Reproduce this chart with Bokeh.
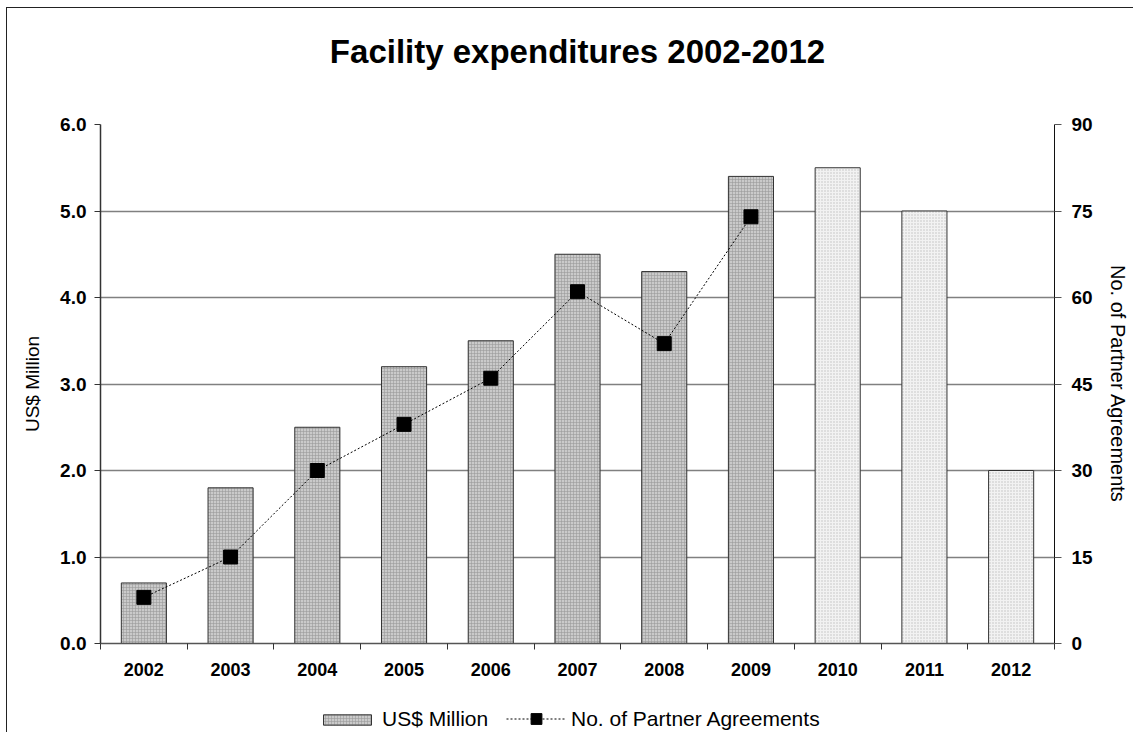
from bokeh.plotting import figure
from bokeh.layouts import column
from bokeh.models import (Range1d, LinearAxis, FixedTicker, NumeralTickFormatter,
                          Legend, LegendItem, Title)
from bokeh.embed import file_html
from bokeh.resources import INLINE

years = ["2002", "2003", "2004", "2005", "2006", "2007", "2008", "2009", "2010", "2011", "2012"]
expenditure = [0.7, 1.8, 2.5, 3.2, 3.5, 4.5, 4.3, 5.4, 5.5, 5.0, 2.0]
agreements = [8, 15, 30, 38, 46, 61, 52, 74]
n_actual = 8

idx = list(range(len(years)))
FONT = "Liberation Sans"
W = 1126
ML, MR = 93, 79

BAR_A = dict(fill_color="#cacaca", line_color="#333333", line_width=1,
             hatch_pattern="cross", hatch_color="#9a9a9a", hatch_scale=3, hatch_weight=0.6)
BAR_B = dict(fill_color="#f2f2f2", line_color="#333333", line_width=1,
             hatch_pattern="dot", hatch_color="#c0c0c0", hatch_scale=3, hatch_weight=0.9)
LINE = dict(line_color="black", line_width=1, line_dash="2 2")
MARK = dict(marker="square", size=14, fill_color="black", line_color="black")

# ---------- title strip ----------
pt = figure(width=W, height=100, output_backend="svg", toolbar_location=None,
            x_range=Range1d(0, 1), y_range=Range1d(0, 1),
            x_axis_location=None, y_axis_location=None,
            min_border_left=ML, min_border_right=MR, min_border_top=61, min_border_bottom=0)
pt.outline_line_color = None
pt.grid.visible = False
pt.title = Title(text="Facility expenditures 2002-2012", align="center", vertical_align="bottom",
                 text_font=FONT, text_font_size="33px", text_font_style="bold",
                 text_color="black", standoff=0, offset=0)

# ---------- main chart ----------
p = figure(width=W, height=584, output_backend="svg", toolbar_location=None,
           x_range=Range1d(-0.5, len(years) - 0.5), y_range=Range1d(0, 6),
           min_border_left=ML, min_border_right=MR, min_border_top=16, min_border_bottom=49)
p.outline_line_color = None
p.background_fill_color = "white"

p.xgrid.grid_line_color = None
p.ygrid.grid_line_color = "#808080"
p.ygrid.grid_line_width = 1.3
p.ygrid.ticker = FixedTicker(ticks=[1, 2, 3, 4, 5, 6])

p.vbar(x=idx[:n_actual], top=expenditure[:n_actual], width=0.52, bottom=0, **BAR_A)
p.vbar(x=idx[n_actual:], top=expenditure[n_actual:], width=0.52, bottom=0, **BAR_B)

p.extra_y_ranges = {"agree": Range1d(0, 90)}
p.line(x=idx[:n_actual], y=agreements, y_range_name="agree", **LINE)
p.scatter(x=idx[:n_actual], y=agreements, y_range_name="agree", **MARK)

xa = p.xaxis[0]
xa.ticker = FixedTicker(ticks=idx, minor_ticks=[i - 0.5 for i in range(len(years) + 1)])
xa.major_label_overrides = {i: y for i, y in enumerate(years)}
xa.major_tick_line_color = None
xa.minor_tick_line_color = "#333333"
xa.minor_tick_out = 6
xa.minor_tick_in = 0
xa.axis_line_color = "#555555"
xa.axis_line_width = 1.5
xa.major_label_text_font = FONT
xa.major_label_text_font_size = "18px"
xa.major_label_text_font_style = "bold"
xa.major_label_text_color = "black"
xa.major_label_standoff = 13

ya = p.yaxis[0]
ya.ticker = FixedTicker(ticks=[0, 1, 2, 3, 4, 5, 6])
ya.formatter = NumeralTickFormatter(format="0.0")
ya.axis_label = "US$ Million"
ya.axis_label_text_font = FONT
ya.axis_label_text_font_size = "19px"
ya.axis_label_text_font_style = "normal"
ya.axis_label_text_color = "black"
ya.axis_label_standoff = 14
ya.major_label_text_font = FONT
ya.major_label_text_font_size = "19px"
ya.major_label_text_font_style = "bold"
ya.major_label_text_color = "black"
ya.major_label_standoff = 8
ya.major_tick_out = 6
ya.major_tick_in = 0
ya.minor_tick_line_color = None
ya.axis_line_color = "#333333"
ya.axis_line_width = 1.5
ya.major_tick_line_color = "#333333"

ra = LinearAxis(y_range_name="agree", ticker=FixedTicker(ticks=[0, 15, 30, 45, 60, 75, 90]),
                axis_label="No. of Partner Agreements")
ra.axis_label_text_font = FONT
ra.axis_label_text_font_size = "20px"
ra.axis_label_text_font_style = "normal"
ra.axis_label_text_color = "black"
ra.axis_label_standoff = 11
ra.major_label_text_font = FONT
ra.major_label_text_font_size = "19px"
ra.major_label_text_font_style = "bold"
ra.major_label_text_color = "black"
ra.major_label_standoff = 10
ra.major_tick_out = 7
ra.major_tick_in = 0
ra.minor_tick_line_color = None
ra.axis_line_color = "#111111"
ra.axis_line_width = 1
ra.major_tick_line_color = "#555555"
p.add_layout(ra, "right")

# ---------- legend strip ----------
# same series drawn into a viewport that shows none of them; only their legend swatches appear
pl = figure(width=W, height=40, output_backend="svg", toolbar_location=None,
            x_range=Range1d(100, 101), y_range=Range1d(100, 101),
            x_axis_location=None, y_axis_location=None,
            min_border_left=ML, min_border_right=MR, min_border_top=0, min_border_bottom=0)
pl.outline_line_color = None
pl.grid.visible = False
lg_bar = pl.vbar(x=idx[:n_actual], top=expenditure[:n_actual], width=0.52, bottom=0, **BAR_A)
lg_line = pl.line(x=idx[:n_actual], y=agreements, **LINE)
lg_mark = pl.scatter(x=idx[:n_actual], y=agreements, **MARK)

LEG = dict(orientation="horizontal", glyph_width=60, label_text_font=FONT,
           label_text_font_size="21px", label_text_color="black",
           border_line_color=None, background_fill_alpha=0,
           padding=0, margin=0, spacing=6, label_standoff=5, label_height=16)
legend1 = Legend(items=[LegendItem(label="US$ Million", renderers=[lg_bar])],
                 location=(217, 1), glyph_height=13, **LEG)
legend2 = Legend(items=[LegendItem(label="No. of Partner Agreements", renderers=[lg_line, lg_mark])],
                 location=(406, 0), glyph_height=27, **LEG)
pl.add_layout(legend1, "center")
pl.add_layout(legend2, "center")

layout = column(pt, p, pl, spacing=0)
layout.styles = {"border-left": "1.5px solid #222", "border-top": "1.5px solid #222",
                 "margin-left": "6px", "margin-top": "7px"}

open("out.html", "w").write(file_html(layout, INLINE))
